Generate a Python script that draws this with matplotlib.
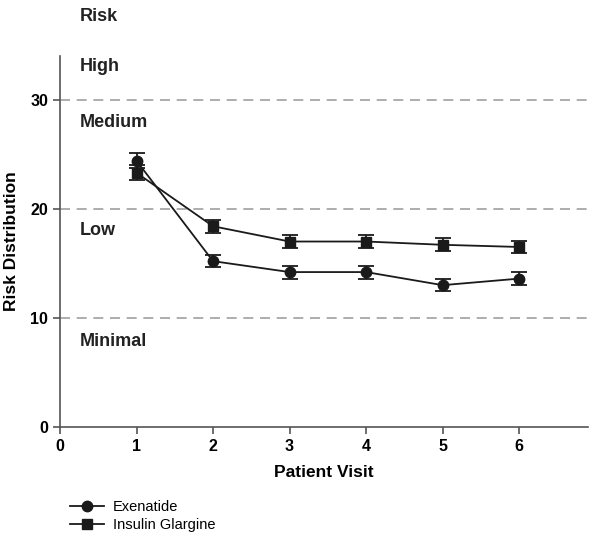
import matplotlib
matplotlib.use("Agg")
import matplotlib.pyplot as plt
from matplotlib.lines import Line2D

plt.rcParams['font.family'] = ['Liberation Sans', 'DejaVu Sans']

visits = [1, 2, 3, 4, 5, 6]
exenatide = [24.4, 15.2, 14.2, 14.2, 13.0, 13.6]
exenatide_err = [0.7, 0.55, 0.6, 0.6, 0.55, 0.6]
glargine = [23.3, 18.4, 17.0, 17.0, 16.7, 16.5]
glargine_err = [0.7, 0.6, 0.6, 0.6, 0.6, 0.55]
risk_levels = [10, 20, 30]
risk_labels = ["High", "Medium", "Low", "Minimal"]
risk_label_y = [33.0, 27.9, 18.0, 7.8]

fig = plt.figure(figsize=(6.0, 5.36), dpi=100)
ax = fig.add_axes([0.1, 0.2034, 0.88, 0.692])

for lv in risk_levels:
    ax.axhline(lv, color='#a0a0a0', linestyle=(0, (6, 4)), linewidth=1.2, zorder=1)

ax.errorbar(visits, exenatide, yerr=exenatide_err, color='#1a1a1a', marker='o',
            markersize=7.5, linewidth=1.3, capsize=5.5, capthick=1.3, elinewidth=1.3, zorder=3)
ax.errorbar(visits, glargine, yerr=glargine_err, color='#1a1a1a', marker='s',
            markersize=7.5, linewidth=1.3, capsize=5.5, capthick=1.3, elinewidth=1.3, zorder=3)

for lab, y in zip(risk_labels, risk_label_y):
    ax.text(0.26, y, lab, fontsize=13, fontweight='bold', color='#222222', va='center', ha='left')
ax.text(0.26, 37.6, "Risk", fontsize=13, fontweight='bold', color='#222222', va='center',
        ha='left', clip_on=False)

ax.set_xlim(0, 6.9)
ax.set_ylim(0, 34)
ax.set_xticks([0, 1, 2, 3, 4, 5, 6])
ax.set_yticks([0, 10, 20, 30])
ax.tick_params(axis='both', labelsize=11.5, color='#555555', length=5, width=1.2)
for t in ax.get_xticklabels() + ax.get_yticklabels():
    t.set_fontweight('bold')
for s in ['top', 'right']:
    ax.spines[s].set_visible(False)
for s in ['left', 'bottom']:
    ax.spines[s].set_color('#555555')
    ax.spines[s].set_linewidth(1.2)

ax.set_xlabel("Patient Visit", fontsize=12.5, fontweight='bold', labelpad=8)
ax.set_ylabel("Risk Distribution", fontsize=12.5, fontweight='bold', labelpad=8)

handles = [Line2D([], [], color='#1a1a1a', marker='o', markersize=7.5, linewidth=1.3),
           Line2D([], [], color='#1a1a1a', marker='s', markersize=7.5, linewidth=1.3)]
fig.legend(handles, ["Exenatide", "Insulin Glargine"], loc='upper left',
           bbox_to_anchor=(0.105, 0.081), frameon=False, fontsize=10.5,
           handlelength=2.3, labelspacing=0.3, borderpad=0, handletextpad=0.6)

fig.savefig("out.png", dpi=100)
